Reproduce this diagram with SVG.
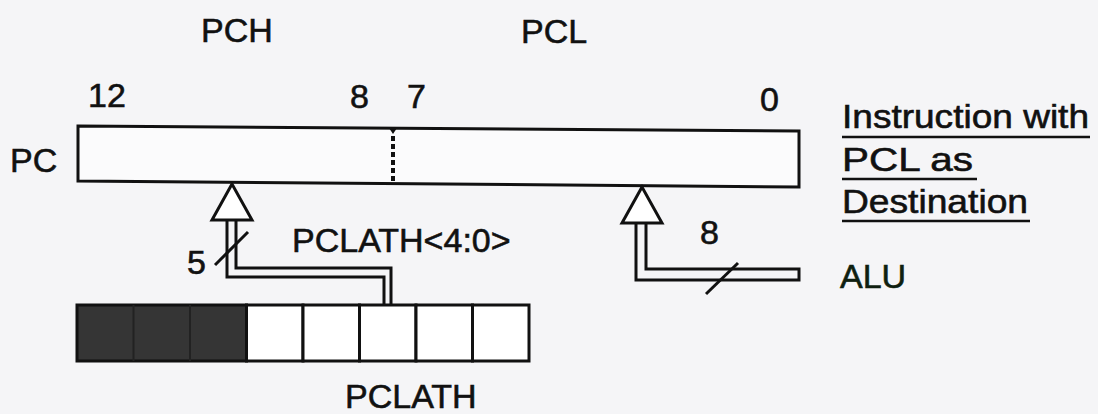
<svg xmlns="http://www.w3.org/2000/svg" width="1098" height="414" viewBox="0 0 1098 414">
<style>
text{font-family:"Liberation Sans",Arial,sans-serif;font-size:34px;fill:#111;stroke:#111;stroke-width:0.6}
.ln{fill:none;stroke:#111;stroke-width:3}
.ul{stroke:#111;stroke-width:2.5}
.dark{fill:#353535;stroke:#111;stroke-width:3}
.cell{fill:#fff;stroke:#111;stroke-width:3}
</style>
<rect width="1098" height="414" fill="#f5f5f7"/>
<g id="labels-top">
<text x="201" y="42">PCH</text>
<text x="521" y="43">PCL</text>
<text x="88" y="107">12</text>
<text x="350" y="108">8</text>
<text x="407" y="108">7</text>
<text x="760" y="111">0</text>
<text x="10" y="172">PC</text>
</g>
<g id="pc-register">
<polygon points="78,126 799,131 799,187 78,181" fill="#fbfbfc" stroke="#111" stroke-width="3"/>
<path d="M389,128 L397,128 L393,134 Z" fill="#111"/>
<line x1="393" y1="136" x2="393" y2="183" stroke="#111" stroke-width="4" stroke-dasharray="5,3"/>
</g>
<g id="pclath-register">
<rect x="77" y="305" width="169.5" height="56" class="dark"/>
<line x1="133.5" y1="305" x2="133.5" y2="361" stroke="#222" stroke-width="2"/>
<line x1="190" y1="305" x2="190" y2="361" stroke="#222" stroke-width="2"/>
<rect x="246.5" y="305" width="56.5" height="56" class="cell"/>
<rect x="303" y="305" width="56.5" height="56" class="cell"/>
<rect x="359.5" y="305" width="56.5" height="56" class="cell"/>
<rect x="416" y="305" width="56.5" height="56" class="cell"/>
<rect x="472.5" y="305" width="56.5" height="56" class="cell"/>
<text x="345" y="408">PCLATH</text>
</g>
<g id="destination-note">
<text x="842" y="128" textLength="247" lengthAdjust="spacingAndGlyphs">Instruction with</text>
<line x1="842" y1="137" x2="1090" y2="137" class="ul"/>
<text x="842" y="171" textLength="131" lengthAdjust="spacingAndGlyphs">PCL as</text>
<line x1="842" y1="179" x2="977" y2="179" class="ul"/>
<text x="842" y="213" textLength="186" lengthAdjust="spacingAndGlyphs">Destination</text>
<line x1="842" y1="221" x2="1030" y2="221" class="ul"/>
</g>
<g id="alu">
<text x="840" y="288" style="fill:#0f1f10;stroke:#0f1f10">ALU</text>
</g>
<g id="connectors">
<path class="ln" d="M227,220 V277 H384 V305"/>
<path class="ln" d="M236,220 V268 H391 V305"/>
<polygon points="232,184 212,220 252,220" fill="#fff" stroke="#111" stroke-width="3" stroke-linejoin="miter"/>
<line x1="215" y1="265" x2="248" y2="232" class="ln"/>
<text x="187" y="274">5</text>
<text x="292" y="252">PCLATH&lt;4:0&gt;</text>
<path class="ln" d="M646,223 V269 H799 V280 H636 V223"/>
<polygon points="642,187 622,223 662,223" fill="#fff" stroke="#111" stroke-width="3"/>
<line x1="706" y1="294" x2="738" y2="263" class="ln"/>
<text x="700" y="244">8</text>
</g>
</svg>
